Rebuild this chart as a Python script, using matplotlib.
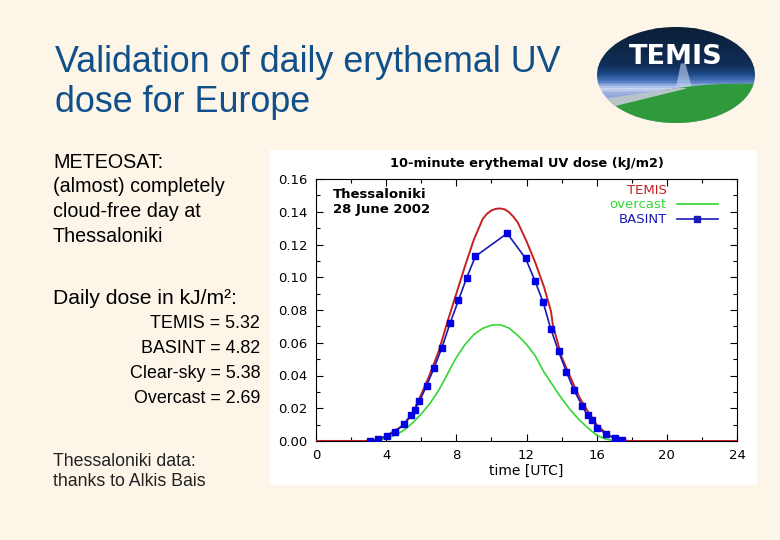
import numpy as np
import matplotlib
matplotlib.use("Agg")
import matplotlib.pyplot as plt
from matplotlib.patches import Rectangle, Ellipse, Circle, Polygon

# TEMIS model (clear sky)
temis_t = [0, 3.0, 3.5, 4.0, 4.5, 5.0, 5.5, 6.0, 6.5, 7.0, 7.5, 8.0, 8.5, 9.0, 9.5,
           9.75, 10.0, 10.25, 10.5, 10.75, 11.0, 11.25, 11.5, 12.0, 12.5, 13.0, 13.4,
           13.5, 14.0, 14.5, 15.0, 15.5, 16.0, 16.5, 17.0, 17.5, 18.0, 24]
temis_v = [0, 0.0, 0.001, 0.003, 0.0065, 0.0095, 0.017, 0.0285, 0.041, 0.055, 0.073,
           0.090, 0.107, 0.123, 0.1355, 0.1388, 0.1408, 0.1418, 0.142, 0.1415, 0.1398,
           0.137, 0.1335, 0.122, 0.109, 0.094, 0.079, 0.071, 0.0514, 0.039, 0.027,
           0.018, 0.010, 0.005, 0.0015, 0.0002, 0, 0]

# overcast
over_t = [0, 3.0, 3.5, 4.0, 4.5, 5.0, 5.5, 6.0, 6.5, 7.0, 7.5, 8.0, 8.5, 9.0, 9.5,
          10.0, 10.5, 11.0, 11.5, 12.0, 12.5, 13.0, 13.5, 14.0, 14.5, 15.0, 15.5,
          16.0, 16.5, 17.0, 17.5, 24]
over_v = [0, 0, 0.0003, 0.0015, 0.0035, 0.0065, 0.011, 0.0165, 0.023, 0.031, 0.041,
          0.051, 0.059, 0.065, 0.0688, 0.0707, 0.071, 0.069, 0.0645, 0.059, 0.052,
          0.042, 0.034, 0.026, 0.019, 0.013, 0.008, 0.0035, 0.0012, 0.0002, 0, 0]

# BASINT measurements (Thessaloniki)
bas_t = [3.05, 3.56, 4.03, 4.51, 4.99, 5.44, 5.62, 5.9, 6.3, 6.73, 7.17, 7.64, 8.12,
         8.59, 9.09, 10.9, 11.95, 12.48, 12.95, 13.38, 13.83, 14.28, 14.71, 15.17,
         15.48, 15.71, 16.04, 16.54, 17.02, 17.46]
bas_v = [0.0003, 0.001, 0.003, 0.0055, 0.0102, 0.0161, 0.0188, 0.0243, 0.0337, 0.0446,
         0.0568, 0.0718, 0.0859, 0.0997, 0.1128, 0.1268, 0.1115, 0.0979, 0.0847, 0.0686,
         0.0547, 0.0421, 0.0311, 0.0215, 0.0156, 0.0128, 0.0082, 0.0041, 0.0018, 0.0006]

doses = ["TEMIS = 5.32", "BASINT = 4.82", "Clear-sky = 5.38", "Overcast = 2.69"]

bg = "#fdf5e8"
red = "#c42222"
green = "#33d633"
blue = "#1a1ab4"

plt.rcParams['font.family'] = ['Liberation Sans', 'DejaVu Sans']

fig = plt.figure(figsize=(7.8, 5.4), dpi=100, facecolor=bg)
W, H = 780.0, 540.0

def fx(px):
    return px / W

def fy(py):
    return 1 - py / H

# slide text
fig.text(fx(55), fy(62), "Validation of daily erythemal UV", fontsize=25.8, color="#10508a", va="center")
fig.text(fx(55), fy(102), "dose for Europe", fontsize=25.8, color="#10508a", va="center")

fig.text(fx(53), fy(162), "METEOSAT:", fontsize=14.2, va="center")
for i, s in enumerate(["(almost) completely", "cloud-free day at", "Thessaloniki"]):
    fig.text(fx(53), fy(187 + 24.6 * i), s, fontsize=14.2, va="center")
fig.text(fx(53), fy(298), "Daily dose in kJ/m\u00b2:", fontsize=15.2, va="center")
for i, s in enumerate(doses):
    fig.text(fx(260), fy(324 + 24.7 * i), s, fontsize=12.9, va="center", ha="right")
fig.text(fx(53), fy(462), "Thessaloniki data:", fontsize=12.8, va="center", color="#222222")
fig.text(fx(53), fy(481), "thanks to Alkis Bais", fontsize=12.8, va="center", color="#222222")

# white background of the chart picture
fig.patches.append(Rectangle((fx(270), fy(485)), fx(757) - fx(270), fy(150) - fy(485),
                             transform=fig.transFigure, facecolor="white", edgecolor="none", zorder=-5))

ax = fig.add_axes([fx(316), fy(441), fx(737) - fx(316), fy(179) - fy(441)])
ax.set_zorder(2)
ax.set_facecolor("white")
ax.plot(temis_t, temis_v, color=red, lw=1.4, zorder=3)
ax.plot(over_t, over_v, color=green, lw=1.2, zorder=2)
ax.plot(bas_t, bas_v, color=blue, lw=1.2, marker="s", ms=4.5, mfc="#0000e0", mec="#0000e0", zorder=4)
ax.plot([0, 3.0], [0, 0], color=red, lw=2.2, zorder=3)

ax.set_xlim(0, 24)
ax.set_ylim(0, 0.16)
ax.set_xticks(np.arange(0, 25, 4))
ax.set_xticks(np.arange(0, 25, 2), minor=True)
ax.set_yticks(np.arange(0, 0.161, 0.02))
ax.set_yticks(np.arange(0, 0.161, 0.01), minor=True)
ax.set_yticklabels(["%.2f" % v for v in np.arange(0, 0.161, 0.02)])
ax.tick_params(which="both", direction="in", top=True, right=True, labelsize=9.5,
               width=0.8, color="black")
ax.tick_params(which="major", length=5, pad=6)
ax.tick_params(which="minor", length=3)
for sp in ax.spines.values():
    sp.set_linewidth(0.8)
for lab in ax.get_xticklabels() + ax.get_yticklabels():
    lab.set_family("DejaVu Sans")
ax.set_title("10-minute erythemal UV dose (kJ/m2)", fontsize=9.3, fontweight="bold",
             family="DejaVu Sans", pad=9)
ax.set_xlabel("time [UTC]", fontsize=10, family="DejaVu Sans", labelpad=1)

ax.text(0.04, 0.939, "Thessaloniki", transform=ax.transAxes, fontsize=9.5, fontweight="bold",
        family="DejaVu Sans", va="center")
ax.text(0.04, 0.885, "28 June 2002", transform=ax.transAxes, fontsize=9.5, fontweight="bold",
        family="DejaVu Sans", va="center")

# legend, drawn like the gnuplot key
ax.text(0.833, 0.958, "TEMIS", transform=ax.transAxes, color=red, fontsize=9.5, ha="right",
        va="center", family="DejaVu Sans")
ax.text(0.833, 0.903, "overcast", transform=ax.transAxes, color=green, fontsize=9.5, ha="right",
        va="center", family="DejaVu Sans")
ax.text(0.833, 0.846, "BASINT", transform=ax.transAxes, color=blue, fontsize=9.5, ha="right",
        va="center", family="DejaVu Sans")
ax.plot([0.857, 0.955], [0.903, 0.903], transform=ax.transAxes, color=green, lw=1.2)
ax.plot([0.857, 0.955], [0.846, 0.846], transform=ax.transAxes, color=blue, lw=1.2)
ax.plot([0.906], [0.846], transform=ax.transAxes, color=blue, marker="s", ms=4.5)

# TEMIS logo
lg = fig.add_axes([fx(597), fy(123), fx(755) - fx(597), fy(27) - fy(123)])
lg.set_xlim(0, 1)
lg.set_ylim(0, 1)
lg.axis("off")
ell = Ellipse((0.5, 0.5), 1.0, 1.0, transform=lg.transData, facecolor="none", edgecolor="none")
lg.add_patch(ell)
# sky gradient, from the top (0) down (1), drawn as thin strips
cols = np.array([[10, 30, 55], [15, 45, 85], [30, 75, 140], [90, 130, 200],
                 [205, 215, 242], [150, 170, 220], [120, 150, 210]]) / 255.0
pos = np.array([0, 0.4, 0.5, 0.58, 0.64, 0.7, 1.0])
n = 60
for k in range(n):
    d = (k + 0.5) / n
    c = [np.interp(d, pos, cols[:, j]) for j in range(3)]
    strip = lg.axhspan(1 - (k + 1) / n, 1 - k / n + 0.002, facecolor=c, edgecolor="none", zorder=1)
    strip.set_clip_path(ell)
hill = Circle((0.9, -1.3), 1.71, facecolor="#2f9a3a", edgecolor="none", zorder=3)
lg.add_patch(hill)
hill.set_clip_path(ell)
road = Polygon([[0.0, 0.24], [0.53, 0.37], [0.57, 0.36], [0.0, 0.13]], closed=True,
               facecolor="#b8c4c8", edgecolor="none", zorder=4)
lg.add_patch(road)
road.set_clip_path(ell)
beam = Polygon([[0.5, 0.37], [0.53, 0.62], [0.56, 0.62], [0.6, 0.37]], closed=True,
               facecolor="#c8d4f0", edgecolor="none", alpha=0.6, zorder=2)
lg.add_patch(beam)
beam.set_clip_path(ell)
lg.text(0.5, 0.69, "TEMIS", color="white", fontsize=19.5, fontweight="heavy", ha="center",
        va="center", family="DejaVu Sans", zorder=5)

fig.savefig("out.png", dpi=100, facecolor=bg)
